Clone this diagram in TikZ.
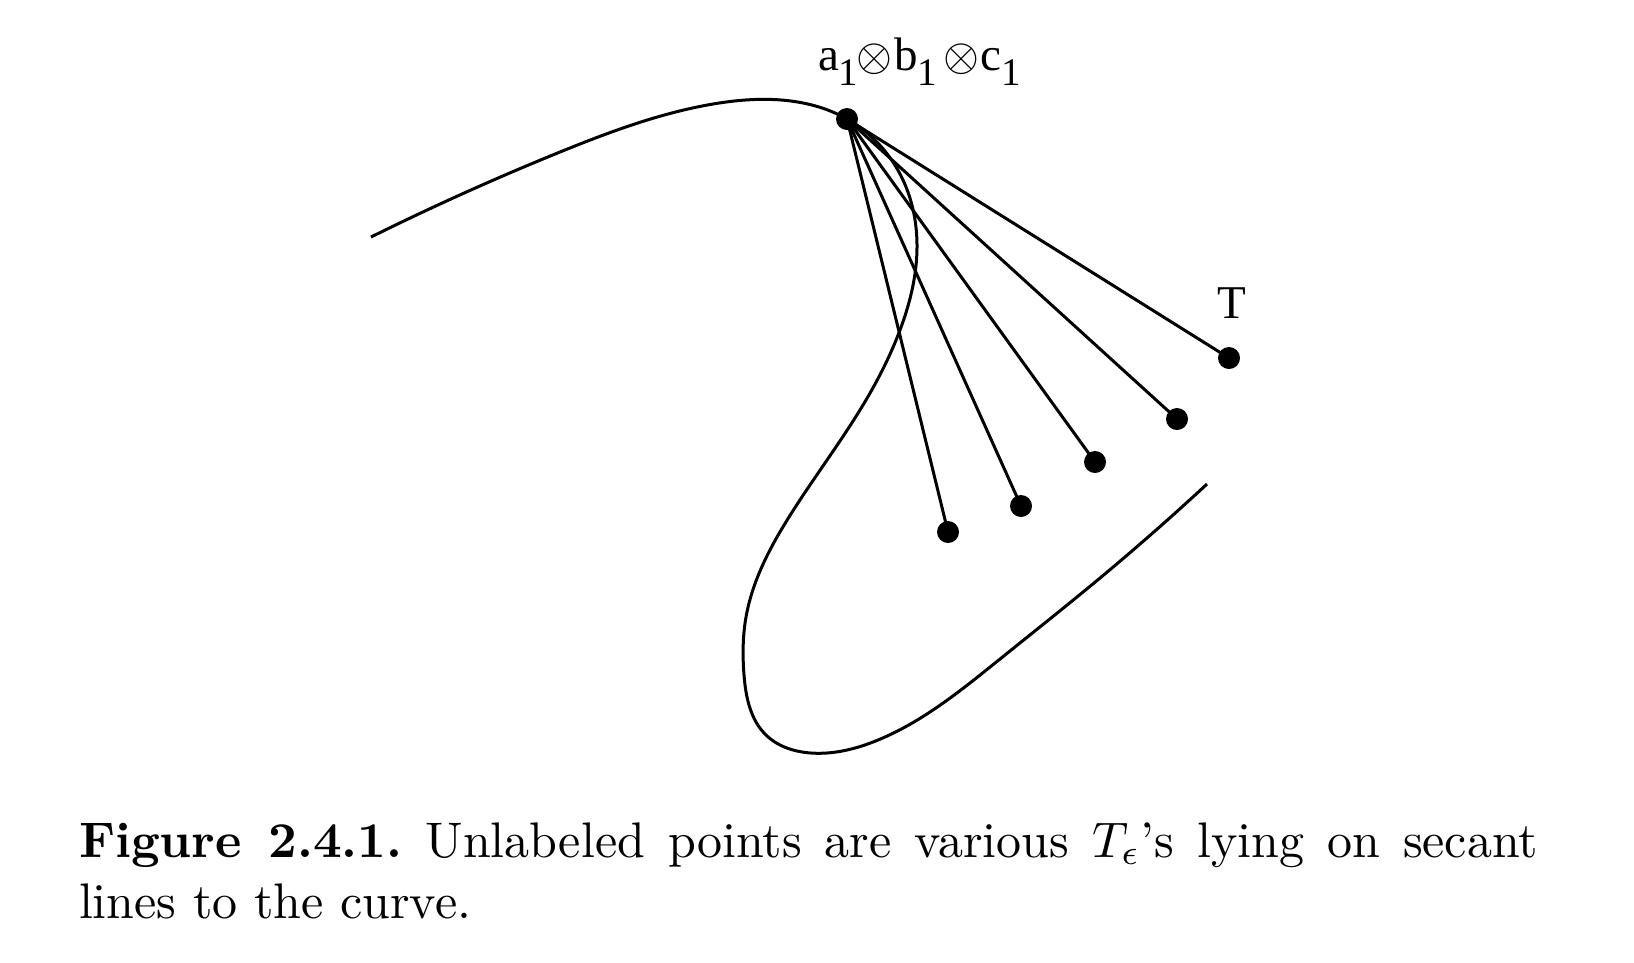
\documentclass[tikz,border=0pt]{standalone}
\usepackage{fontspec}
\usetikzlibrary{hobby}
\newfontfamily\tnr{Liberation Serif}
\newcommand\lowone[1]{\raisebox{-3pt}{\fontsize{7.8}{8}\selectfont #1}}
\begin{document}
\begin{tikzpicture}[x=0.2pt,y=-0.2pt,
  dot/.style={circle,fill=black,draw=none,inner sep=0pt,minimum size=4.4pt},
  curveline/.style={line width=0.6pt},
  secant/.style={line width=0.6pt},
  lbl/.style={inner sep=0pt,font=\tnr\fontsize{9.4}{10}\selectfont},
  captext/.style={inner sep=0pt,font=\fontsize{10}{12}\selectfont\frenchspacing}]
\useasboundingbox (0,0) rectangle (1634,962);
\draw[curveline,use Hobby shortcut] (371,237) .. (560,152) .. (713,104) .. (847,119)
 .. (903,180) .. (917,247) .. (900,330) .. (866,400) .. (789,517) .. (746,617)
 .. (744,675) .. (766,735) .. (811,753) .. (878,740) .. (1000,659) .. (1100,578) .. (1207,484);
\node[dot] (P) at (847,119) {};
\node[dot] (d1) at (948,532) {};
\node[dot] (d2) at (1021,506) {};
\node[dot] (d3) at (1095,462) {};
\node[dot] (d4) at (1177,419) {};
\node[dot] (T) at (1229,358) {};
\foreach \n in {d1,d2,d3,d4,T} \draw[secant] (P.center) -- (\n.center);
\node[lbl,anchor=base west] (lab) at (817,70)
  {a\lowone{1}\kern-0.3pt$\otimes$\kern0.3pt b\lowone{1}\kern1.2pt$\otimes$\kern0.2pt c\lowone{1}};
\node[lbl,anchor=base] (Tlab) at (1232,318) {T};
\node[captext,anchor=base west] (cap1) at (78,857)
  {\makebox[291.8pt][s]{\textbf{Figure 2.4.1.} Unlabeled points are various $T_\epsilon$'s lying on secant}};
\node[captext,anchor=base west] (cap2) at (78,918) {lines to the curve.};
\end{tikzpicture}
\end{document}
